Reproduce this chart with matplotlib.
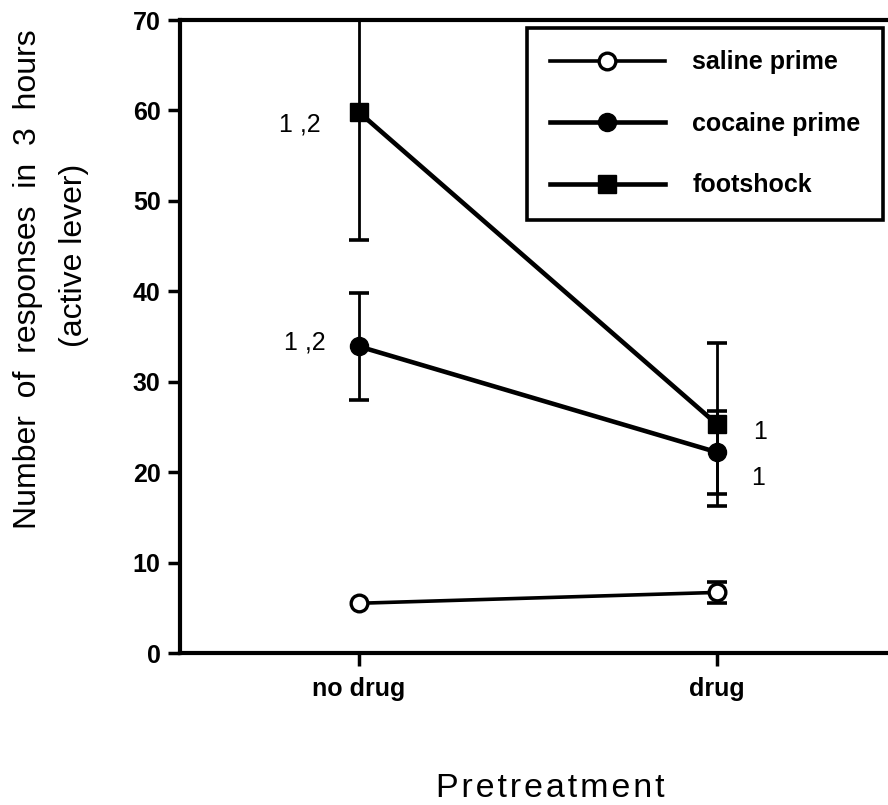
import matplotlib.pyplot as plt

# values (mean +/- SEM)
pretreat = ['no drug', 'drug']
saline = [5.5, 6.7]
saline_err = [0.0, 1.15]
cocaine = [33.9, 22.2]
cocaine_err = [5.9, 4.6]
footshock = [59.8, 25.3]
footshock_err = [14.1, 9.0]
yticks = [0, 10, 20, 30, 40, 50, 60, 70]

plt.rcParams['font.family'] = ['Liberation Sans', 'DejaVu Sans']

fig = plt.figure(figsize=(8.88, 8.05), dpi=100)
ax = fig.add_axes([180/888, 1-653/805, 716/888, 633/805])
x = [0, 1]

lw = 3.3
ms = 13
# error bars first, markers on top
ax.errorbar(x, saline, yerr=saline_err, fmt='none', ecolor='black',
            elinewidth=2, capsize=7.5, capthick=2.6, errorevery=(1, 1), zorder=2)
ax.errorbar(x, cocaine, yerr=cocaine_err, fmt='none', ecolor='black',
            elinewidth=2, capsize=7.5, capthick=2.6, zorder=2)
ax.errorbar(x, footshock, yerr=footshock_err, fmt='none', ecolor='black',
            elinewidth=2, capsize=7.5, capthick=2.6, zorder=2)

ax.plot(x, saline, '-o', color='black', lw=2.6, ms=12, mfc='white',
        mec='black', mew=2.4, label='saline prime', zorder=3)
ax.plot(x, cocaine, '-o', color='black', lw=lw, ms=ms, label='cocaine prime', zorder=3)
ax.plot(x, footshock, '-s', color='black', lw=lw, ms=ms, label='footshock', zorder=3)

# significance marks
ax.annotate('1 ,2', xy=(0, footshock[0]), xytext=(-59, -12), textcoords='offset pixels',
            ha='center', va='center', fontsize=18)
ax.annotate('1 ,2', xy=(0, cocaine[0]), xytext=(-54, 4), textcoords='offset pixels',
            ha='center', va='center', fontsize=18)
ax.annotate('1', xy=(1, footshock[1]), xytext=(43, -8), textcoords='offset pixels',
            ha='center', va='center', fontsize=18)
ax.annotate('1', xy=(1, cocaine[1]), xytext=(41, -26), textcoords='offset pixels',
            ha='center', va='center', fontsize=18)

ax.set_xlim(-0.5, 1.5)
ax.set_ylim(0, 70)
ax.set_xticks(x)
ax.set_xticklabels(pretreat, fontsize=18, fontweight='bold')
ax.set_yticks(yticks)
ax.set_yticklabels([str(v) for v in yticks], fontsize=18, fontweight='bold')
ax.tick_params(axis='y', length=9, width=2.5, pad=5)
ax.tick_params(axis='x', length=9, width=2.5, pad=8)
for s in ['left', 'bottom', 'top']:
    ax.spines[s].set_linewidth(3)
ax.spines['right'].set_visible(False)

leg = ax.legend(loc='upper right', bbox_to_anchor=(883/888, 1-28/805),
                bbox_transform=fig.transFigure, borderaxespad=0,
                prop={'size': 18, 'weight': 'bold'}, handlelength=4.6,
                handletextpad=1.1, labelspacing=1.5, borderpad=0.9,
                fancybox=False, framealpha=1, edgecolor='black')
leg.get_frame().set_linewidth(2.6)

fig.text(28/888, 1-279/805, 'Number  of  responses  in  3  hours', rotation=90,
         ha='center', va='center', fontsize=23)
fig.text(74/888, 1-255/805, '(active lever)', rotation=90,
         ha='center', va='center', fontsize=23)
fig.text(550/888, 1-797/805, '\u200a'.join('Pretreatment'), ha='center',
         va='baseline', fontsize=24.5)

fig.savefig('out.png', dpi=100)
